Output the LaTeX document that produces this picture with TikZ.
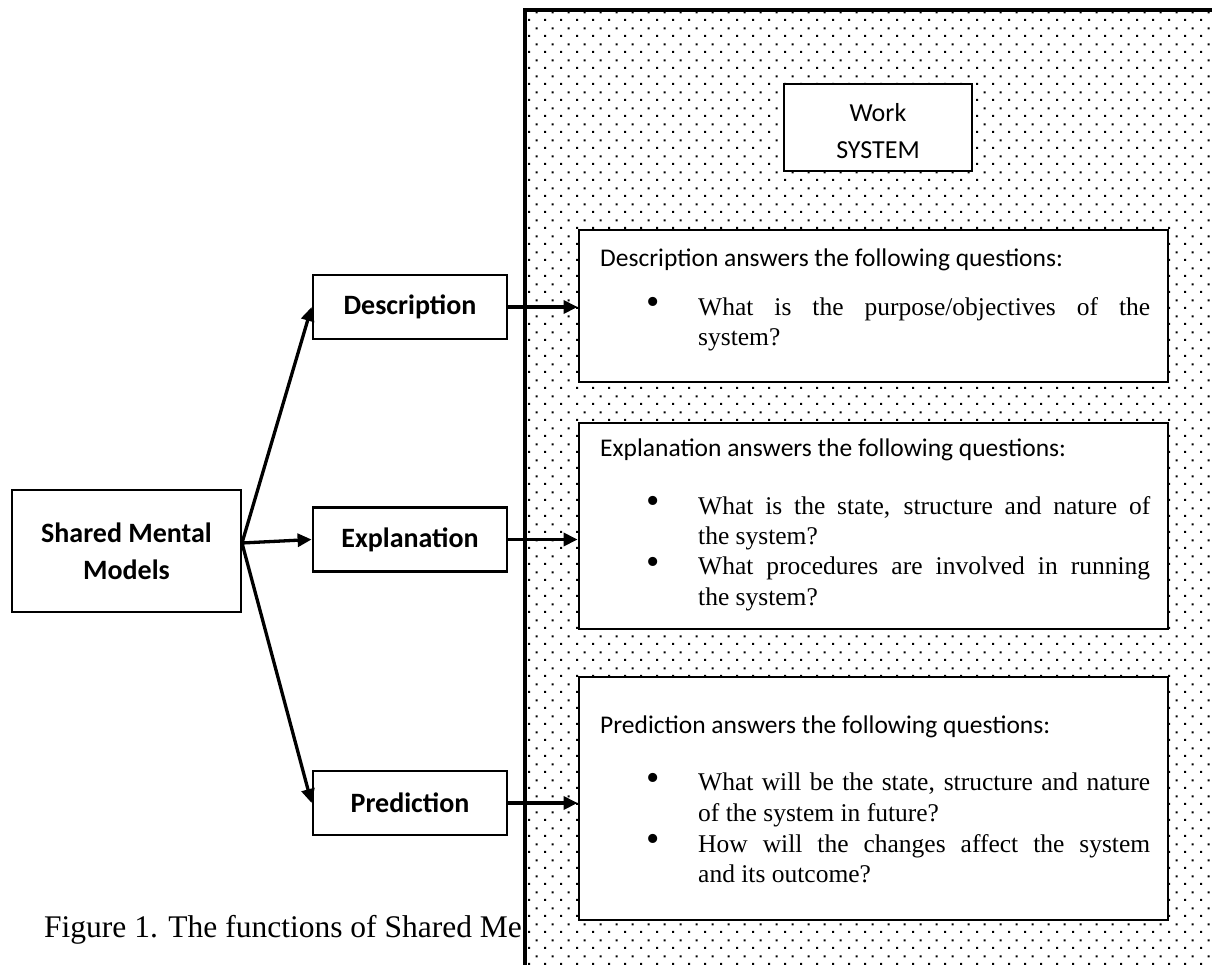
\documentclass[tikz,border=0pt]{standalone}
\usepackage{fontspec}
\setmainfont{Liberation Serif}
\newfontfamily\calibri{Carlito}
\usetikzlibrary{arrows.meta,patterns,positioning}
\hyphenpenalty=10000
\tolerance=10000

% sparse dot fill of the work system area
\pgfdeclarepatternformonly{wdots}{\pgfqpoint{0pt}{0pt}}{\pgfqpoint{16pt}{16pt}}{\pgfqpoint{16pt}{16pt}}{%
  \pgfpathrectangle{\pgfqpoint{0pt}{0pt}}{\pgfqpoint{2.2pt}{2.2pt}}%
  \pgfpathrectangle{\pgfqpoint{8pt}{8pt}}{\pgfqpoint{2.2pt}{2.2pt}}%
  \pgfusepath{fill}}

\begin{document}
\begin{tikzpicture}[x=1pt, y=-1pt,
    box/.style={draw, line width=2.8pt, fill=white, inner sep=0pt},
    smallbox/.style={box, minimum width=194pt, minimum height=64pt, font=\calibri\bfseries\fontsize{28}{34}\selectfont},
    bigbox/.style={box, minimum width=589pt},
    head/.style={anchor=west, inner sep=0pt, font=\calibri\fontsize{25.5}{31}\selectfont},
    bdot/.style={inner sep=0pt, font=\fontsize{38}{38}\selectfont},
    qtext/.style={anchor=north west, inner sep=0pt, text width=452pt, align=justify, font=\fontsize{25.5}{30.5}\selectfont},
    arr/.style={line width=3.3pt, -{Triangle[length=14pt,width=13pt]}}]
    \useasboundingbox (0,0) rectangle (1212,965);
    \fill[white] (0,0) rectangle (1212,965);

    % caption, partly hidden
    \node[anchor=west, inner sep=0pt, font=\fontsize{31.5}{38}\selectfont] (caption) at (44,930) {Figure 1. The functions of Shared Me};

    % work system area
    \fill[pattern=wdots] (525,10) rectangle (1230,985);
    \draw[line width=3.5pt] (525,985) |- (1230,10);

    \node[box, minimum width=188pt, minimum height=87pt] (work) at (878,127.5) {};
    \node[align=center, inner sep=0pt, font=\calibri\fontsize{26}{37}\selectfont] (worktext) at (878,131.5) {Work\\SYSTEM};

    % description
    \node[bigbox, minimum height=152pt] (descb) at (873.5,306) {};
    \node[head] at (600,260) {Description answers the following questions:};
    \node[bdot] at (653,306) {•};
    \node[qtext] at (698,297) {What is the purpose/objectives of the\linebreak system?};

    % explanation
    \node[bigbox, minimum height=206pt] (explb) at (873.5,526) {};
    \node[head] at (600,450) {Explanation answers the following questions:};
    \node[bdot] at (653,505) {•};
    \node[qtext] at (698,496) {What is the state, structure and nature of\linebreak the system?};
    \node[bdot] at (653,566) {•};
    \node[qtext] at (698,557) {What procedures are involved in running\linebreak the system?};

    % prediction
    \node[bigbox, minimum height=243pt] (predb) at (873.5,798.5) {};
    \node[head] at (600,727) {Prediction answers the following questions:};
    \node[bdot] at (653,782) {•};
    \node[qtext] at (698,773) {What will be the state, structure and nature\linebreak of the system in future?};
    \node[bdot] at (653,843) {•};
    \node[qtext] at (698,834) {How will the changes affect the system\linebreak and its outcome?};

    % left side
    \node[box, minimum width=229pt, minimum height=122pt, align=center, font=\calibri\bfseries\fontsize{28}{37}\selectfont] (smm) at (126.5,551) {Shared Mental\\Models};
    \node[smallbox] (descs) at (410,307) {Description};
    \node[smallbox] (expls) at (410,539.5) {Explanation};
    \node[smallbox] (preds) at (410,803) {Prediction};

    \coordinate (fan) at (242,543);
    \draw[arr] (fan) -- (descs.west);
    \draw[arr] (fan) -- (expls.west);
    \draw[arr] (fan) -- (preds.west);

    \draw[arr] (descs.east) -- (descs.east -| descb.west);
    \draw[arr] (expls.east) -- (expls.east -| explb.west);
    \draw[arr] (preds.east) -- (preds.east -| predb.west);
\end{tikzpicture}
\end{document}
